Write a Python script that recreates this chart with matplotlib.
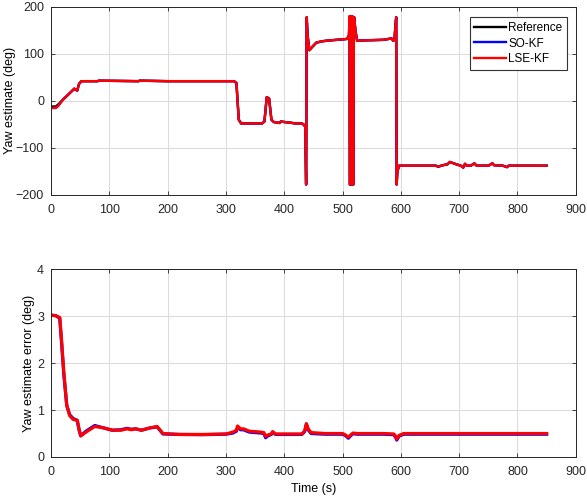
import matplotlib
matplotlib.use("Agg")
import matplotlib.pyplot as plt
import numpy as np

plt.rcParams['font.family'] = ['Liberation Sans', 'DejaVu Sans']

# Yaw estimate (deg) breakpoints
t_yaw = [0, 8, 12, 20, 30, 40, 42, 45, 48, 52, 80, 82, 150, 152, 200, 250, 314, 318, 322, 326, 340, 362, 366, 370, 374, 378, 382, 392, 394, 420, 430, 433, 436, 437.5, 438.5, 440, 443, 448, 455, 465, 480, 500, 508,
         511, 512, 512.5, 513.5, 514, 515, 515.5, 516.5, 517, 518, 518.5, 519.5, 520, 522, 525, 540, 570, 584, 587, 589, 591, 592, 592.8, 594, 597,
         660, 664, 672, 680, 684, 695, 703, 707, 710, 713, 720, 726, 730, 750, 757, 760, 775, 782, 785, 800, 850]
yaw_ref = [-12, -12, -8, 2, 14, 26, 24, 22, 36, 42, 42, 43, 42, 43, 42, 42, 42, 38, -40, -48, -48, -48, -44, 8, 5, -40, -45, -47, -44, -48, -48, -50, -55, -178, 178, 140, 108, 115, 124, 127, 129, 131, 132,
           140, 180, -178, -178, 180, 180, -178, -178, 180, -178, -178, 178, 178, 150, 128, 129, 130, 133, 128, 130, 165, 178, -178, -150, -138,
           -138, -140, -137, -135, -130, -135, -138, -142, -134, -138, -138, -133, -138, -138, -133, -137, -138, -141, -138, -138, -138]
yaw_so = list(yaw_ref)
yaw_lse = list(yaw_ref)
yaw_so[0:3] = [-15, -15, -11]
yaw_lse[0:3] = [-15, -15, -11]

# Yaw estimate error (deg)
t_err = [0, 8, 15, 18, 22, 27, 32, 38, 45, 48, 51, 60, 75, 90, 105, 120, 130, 138, 145, 155, 170, 182, 192, 220, 260, 300, 312, 318, 320, 325, 330, 340, 360, 365, 368, 372, 378, 380, 385, 400, 430, 435, 438, 441, 446, 470, 500, 505, 510, 515, 518, 525, 570, 588, 591, 593, 597, 605, 640, 700, 760, 800, 850]
err_lse = [3.02, 3.01, 2.97, 2.5, 1.8, 1.1, 0.88, 0.8, 0.78, 0.6, 0.45, 0.53, 0.65, 0.62, 0.57, 0.57, 0.6, 0.58, 0.6, 0.57, 0.62, 0.65, 0.5, 0.48, 0.48, 0.49, 0.53, 0.57, 0.66, 0.6, 0.6, 0.55, 0.53, 0.52, 0.44, 0.47, 0.49, 0.54, 0.49, 0.49, 0.49, 0.55, 0.71, 0.6, 0.52, 0.5, 0.5, 0.47, 0.42, 0.48, 0.51, 0.5, 0.5, 0.49, 0.44, 0.38, 0.46, 0.5, 0.5, 0.5, 0.5, 0.5, 0.5]
err_so = [3.02, 3.01, 2.95, 2.45, 1.75, 1.1, 0.9, 0.82, 0.78, 0.58, 0.45, 0.55, 0.67, 0.62, 0.57, 0.58, 0.61, 0.59, 0.6, 0.57, 0.62, 0.64, 0.49, 0.48, 0.475, 0.485, 0.51, 0.55, 0.64, 0.58, 0.58, 0.53, 0.51, 0.5, 0.41, 0.45, 0.48, 0.53, 0.48, 0.48, 0.48, 0.54, 0.7, 0.58, 0.5, 0.485, 0.485, 0.455, 0.4, 0.465, 0.495, 0.485, 0.485, 0.475, 0.42, 0.36, 0.445, 0.485, 0.485, 0.485, 0.485, 0.485, 0.485]

xticks = [0, 100, 200, 300, 400, 500, 600, 700, 800, 900]

fig = plt.figure(figsize=(5.87, 4.97), dpi=100)
ax1 = fig.add_axes([0.0869, 0.608, 0.894, 0.378])
ax2 = fig.add_axes([0.0869, 0.0805, 0.894, 0.378])

lw = 1.7
ax1.plot(t_yaw, yaw_ref, color='black', lw=lw, label='Reference')
ax1.plot(t_yaw, yaw_so, color='#0000ff', lw=lw, label='SO-KF')
ax1.plot(t_yaw, yaw_lse, color='#ff0000', lw=lw, label='LSE-KF')
ax1.set_ylim(-200, 200)
ax1.set_yticks([-200, -100, 0, 100, 200])
ax1.set_ylabel('Yaw estimate (deg)', fontsize=9)
ax1.yaxis.set_label_coords(-0.066, 0.5)
leg = ax1.legend(loc='upper right', fontsize=8.5, handlelength=2.7, borderpad=0.4,
                 labelspacing=0.3, handletextpad=0.15, fancybox=False, framealpha=1,
                 edgecolor='#333333', bbox_to_anchor=(0.983, 0.945), borderaxespad=0)
leg.get_frame().set_linewidth(0.8)

ax2.plot(t_err, err_so, color='#0000ff', lw=lw + 0.6)
ax2.plot(t_err, err_lse, color='#ff0000', lw=lw + 0.6)
ax2.set_ylim(0, 4)
ax2.set_yticks([0, 1, 2, 3, 4])
ax2.set_ylabel('Yaw estimate error (deg)', fontsize=9)
ax2.yaxis.set_label_coords(-0.031, 0.5)
ax2.set_xlabel('Time (s)', fontsize=9, labelpad=3.5)

for ax in (ax1, ax2):
    ax.set_xlim(0, 900)
    ax.set_xticks(xticks)
    ax.grid(True, color='#dcdcdc', lw=0.8)
    ax.set_axisbelow(True)
    ax.tick_params(direction='in', length=3, top=True, right=True, labelsize=9,
                   colors='#262626', width=0.6)
    ax.tick_params(axis='x', pad=6.5)
    ax.tick_params(axis='y', pad=5)
    for s in ax.spines.values():
        s.set_color('#262626')
        s.set_linewidth(0.7)

fig.savefig('out.png', dpi=100)
